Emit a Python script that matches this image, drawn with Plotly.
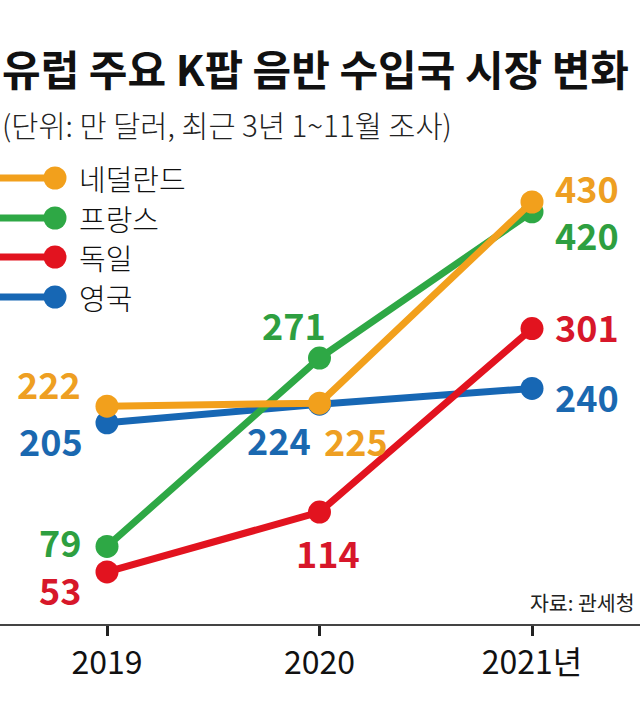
import plotly.graph_objects as go

# ---------------- data ----------------
years = ["2019", "2020", "2021년"]
series_names = ["네덜란드", "프랑스", "독일", "영국"]
netherlands = [222, 225, 430]
france = [79, 271, 420]
germany = [53, 114, 301]
uk = [205, 224, 240]

title_text = "유럽 주요 K팝 음반 수입국 시장 변화"
subtitle_text = "(단위: 만 달러, 최근 3년 1~11월 조사)"
source_text = "자료: 관세청"

# ---------------- style ----------------
line_colors = {"네덜란드": "#F2A01C", "프랑스": "#2EA845", "독일": "#E2131F", "영국": "#1767B4"}
label_colors = {"네덜란드": "#EE9F22", "프랑스": "#2E9F40", "독일": "#D7172A", "영국": "#1A68B0"}
values = {"네덜란드": netherlands, "프랑스": france, "독일": germany, "영국": uk}
draw_order = ["영국", "독일", "프랑스", "네덜란드"]

# label placement per series per year: (xanchor, xshift, yshift)
label_pos = {
    "네덜란드": [("right", -24, 23), ("center", 36, -37), ("left", 21, 15)],
    "프랑스": [("right", -24, 5), ("center", -26, 34), ("left", 21, -22)],
    "독일": [("right", -24, -17), ("center", 8, -40), ("left", 21, 3)],
    "영국": [("right", -22, -17), ("center", -41, -35), ("left", 21, -8)],
}

W, H = 640, 709
M_T, M_B = 150, 85
PLOT_BOTTOM = H - M_B
PLOT_H = PLOT_BOTTOM - M_T
PX_PER_UNIT = 0.9814
YMAX = PLOT_H / PX_PER_UNIT


def py(p):
    """pixel y -> paper y"""
    return (PLOT_BOTTOM - p) / PLOT_H


KFONT = "Noto Sans CJK KR"

fig = go.Figure()
xs = list(range(len(years)))
for name in draw_order:
    fig.add_trace(go.Scatter(
        x=xs, y=values[name], mode="lines+markers", name=name,
        line=dict(color=line_colors[name], width=7),
        marker=dict(color=line_colors[name], size=23),
        cliponaxis=False, showlegend=False, hoverinfo="skip",
    ))

annotations = []
# data labels
for name in series_names:
    for i, v in enumerate(values[name]):
        xa, xs_, ys_ = label_pos[name][i]
        annotations.append(dict(
            x=i, y=v, xref="x", yref="y", text=str(v), showarrow=False,
            xanchor=xa, yanchor="middle", xshift=xs_, yshift=ys_,
            font=dict(family=KFONT, size=36, color=label_colors[name], weight="bold"),
        ))

# title & subtitle
annotations.append(dict(
    x=0, y=py(68), xref="paper", yref="paper", text=title_text, showarrow=False,
    xanchor="left", yanchor="middle",
    font=dict(family=KFONT, size=42, color="#111111", weight="bold"),
))
annotations.append(dict(
    x=0, y=py(124), xref="paper", yref="paper", text=subtitle_text, showarrow=False,
    xanchor="left", yanchor="middle",
    font=dict(family=KFONT, size=29.5, color="#222222", weight=300),
))
# source
annotations.append(dict(
    x=637 / W, y=py(602), xref="paper", yref="paper", text=source_text, showarrow=False,
    xanchor="right", yanchor="middle",
    font=dict(family=KFONT, size=20.5, color="#222222"),
))

# legend (manual)
shapes = []
legend_rows = [178, 218, 257, 297]
for name, ry in zip(series_names, legend_rows):
    shapes.append(dict(
        type="line", xref="paper", yref="paper", x0=0, x1=55 / W, y0=py(ry), y1=py(ry),
        line=dict(color=line_colors[name], width=7),
    ))
    shapes.append(dict(
        type="circle", xref="paper", yref="paper", xsizemode="pixel", ysizemode="pixel",
        xanchor=55 / W, yanchor=py(ry), x0=-11.5, x1=11.5, y0=-11.5, y1=11.5,
        fillcolor=line_colors[name], line=dict(width=0),
    ))
    annotations.append(dict(
        x=77 / W, y=py(ry), xref="paper", yref="paper", text=name, showarrow=False,
        xanchor="left", yanchor="middle",
        font=dict(family=KFONT, size=29, color="#111111", weight=300),
    ))

fig.update_layout(
    width=W, height=H,
    margin=dict(l=0, r=0, t=M_T, b=M_B, pad=0),
    paper_bgcolor="white", plot_bgcolor="white",
    showlegend=False,
    annotations=annotations,
    shapes=shapes,
    xaxis=dict(
        range=[-107 / 212.5, (W - 107) / 212.5], tickvals=xs, ticktext=years,
        showgrid=False, zeroline=False, showline=True, linecolor="#444444", linewidth=1.5,
        ticks="outside", ticklen=10, tickwidth=2.5, tickcolor="#222222",
        tickfont=dict(family=KFONT, size=32, color="#111111"), fixedrange=True,
    ),
    yaxis=dict(range=[0, YMAX], visible=False, fixedrange=True),
)

fig.write_html(
    "out.html",
    config={"displayModeBar": False},
    post_script="document.body.style.margin='0';document.body.style.padding='0';",
)
